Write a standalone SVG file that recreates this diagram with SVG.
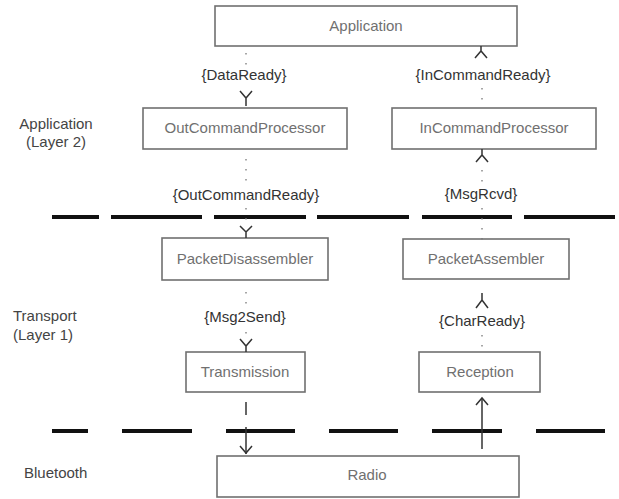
<svg xmlns="http://www.w3.org/2000/svg" width="619" height="499" viewBox="0 0 619 499">
<style>
text{font-family:"Liberation Sans",Arial,sans-serif;font-size:15px}
.box{fill:#fff;stroke:#707070;stroke-width:1.6}
.bt{fill:#707070;text-anchor:middle}
.lbl{fill:#333;text-anchor:middle}
.side{fill:#444}
.dot{stroke:#777;stroke-width:1.3;stroke-dasharray:1.5 8.5;fill:none}
.arr{stroke:#333;stroke-width:1.5;fill:none}
.sep{stroke:#111;stroke-width:4}
</style>
<rect width="619" height="499" fill="#fff"/>
<g id="separators">
<g class="sep">
<line x1="52" y1="217" x2="99" y2="217"/><line x1="111" y1="217" x2="202" y2="217"/><line x1="214" y1="217" x2="306" y2="217"/><line x1="317" y1="217" x2="409" y2="217"/><line x1="422" y1="217" x2="512" y2="217"/><line x1="524" y1="217" x2="615" y2="217"/>
<line x1="52" y1="431" x2="88" y2="431"/><line x1="122" y1="431" x2="192" y2="431"/><line x1="226" y1="431" x2="295" y2="431"/><line x1="329" y1="431" x2="398" y2="431"/><line x1="432" y1="431" x2="502" y2="431"/><line x1="536" y1="431" x2="605" y2="431"/>
</g>
</g>
<g id="layer-labels">
<text class="side" x="56" y="129" text-anchor="middle">Application</text>
<text class="side" x="56" y="147" text-anchor="middle">(Layer 2)</text>
<text class="side" x="13" y="321">Transport</text>
<text class="side" x="13" y="340">(Layer 1)</text>
<text class="side" x="24" y="478">Bluetooth</text>
</g>
<g id="Application"><rect class="box" x="215" y="6" width="302" height="40"/><text class="bt" x="366" y="31">Application</text></g>
<g id="OutCommandProcessor"><rect class="box" x="143" y="108" width="204" height="41"/><text class="bt" x="245" y="133">OutCommandProcessor</text></g>
<g id="InCommandProcessor"><rect class="box" x="392" y="108" width="204" height="41"/><text class="bt" x="494" y="133">InCommandProcessor</text></g>
<g id="PacketDisassembler"><rect class="box" x="162" y="238" width="166" height="42"/><text class="bt" x="245" y="264">PacketDisassembler</text></g>
<g id="PacketAssembler"><rect class="box" x="403" y="239" width="166" height="40"/><text class="bt" x="486" y="264">PacketAssembler</text></g>
<g id="Transmission"><rect class="box" x="186" y="352" width="119" height="40"/><text class="bt" x="245" y="377">Transmission</text></g>
<g id="Reception"><rect class="box" x="419" y="352" width="121" height="40"/><text class="bt" x="480" y="377">Reception</text></g>
<g id="Radio"><rect class="box" x="217" y="456" width="302" height="41"/><text class="bt" x="367" y="480">Radio</text></g>
<g id="connectors">
<!-- DataReady -->
<line class="dot" x1="246" y1="53" x2="246" y2="66"/>
<text class="lbl" x="244" y="80">{DataReady}</text>
<path class="arr" d="M240 91 L246 98 L252 91 M246 98 V106"/>
<!-- OutCommandReady -->
<line class="dot" x1="246" y1="159" x2="246" y2="184"/>
<text class="lbl" x="246" y="200">{OutCommandReady}</text>
<line class="dot" x1="246" y1="208" x2="246" y2="222"/>
<path class="arr" d="M240 226 L246 232 L252 226 M246 232 V238"/>
<!-- Msg2Send -->
<line class="dot" x1="246" y1="292" x2="246" y2="306"/>
<text class="lbl" x="245" y="322">{Msg2Send}</text>
<line class="dot" x1="246" y1="332" x2="246" y2="336"/>
<path class="arr" d="M240 339 L246 346 L252 339 M246 346 V352"/>
<!-- Transmission to Radio -->
<line class="arr" x1="246" y1="402" x2="246" y2="415"/>
<line class="arr" x1="246" y1="427" x2="246" y2="454"/>
<path class="arr" d="M240 446 L246 453 L252 446"/>
<!-- Radio to Reception -->
<line class="arr" x1="482" y1="449" x2="482" y2="398"/>
<path class="arr" d="M476 405 L482 398 L488 405"/>
<!-- CharReady -->
<line class="dot" x1="482" y1="335" x2="482" y2="348"/>
<text class="lbl" x="482" y="326">{CharReady}</text>
<path class="arr" d="M482 293 V300 M476 308 L482 300 L488 308"/>
<!-- MsgRcvd -->
<line class="dot" x1="482" y1="208" x2="482" y2="240"/>
<text class="lbl" x="481" y="199">{MsgRcvd}</text>
<line class="dot" x1="482" y1="170" x2="482" y2="182"/>
<path class="arr" d="M482 149 V155 M476 162 L482 155 L488 162"/>
<!-- InCommandReady -->
<line class="dot" x1="482" y1="88" x2="482" y2="104"/>
<text class="lbl" x="483" y="80">{InCommandReady}</text>
<path class="arr" d="M481 46 V51 M475 58 L481 51 L487 58"/>
</g>
</svg>
